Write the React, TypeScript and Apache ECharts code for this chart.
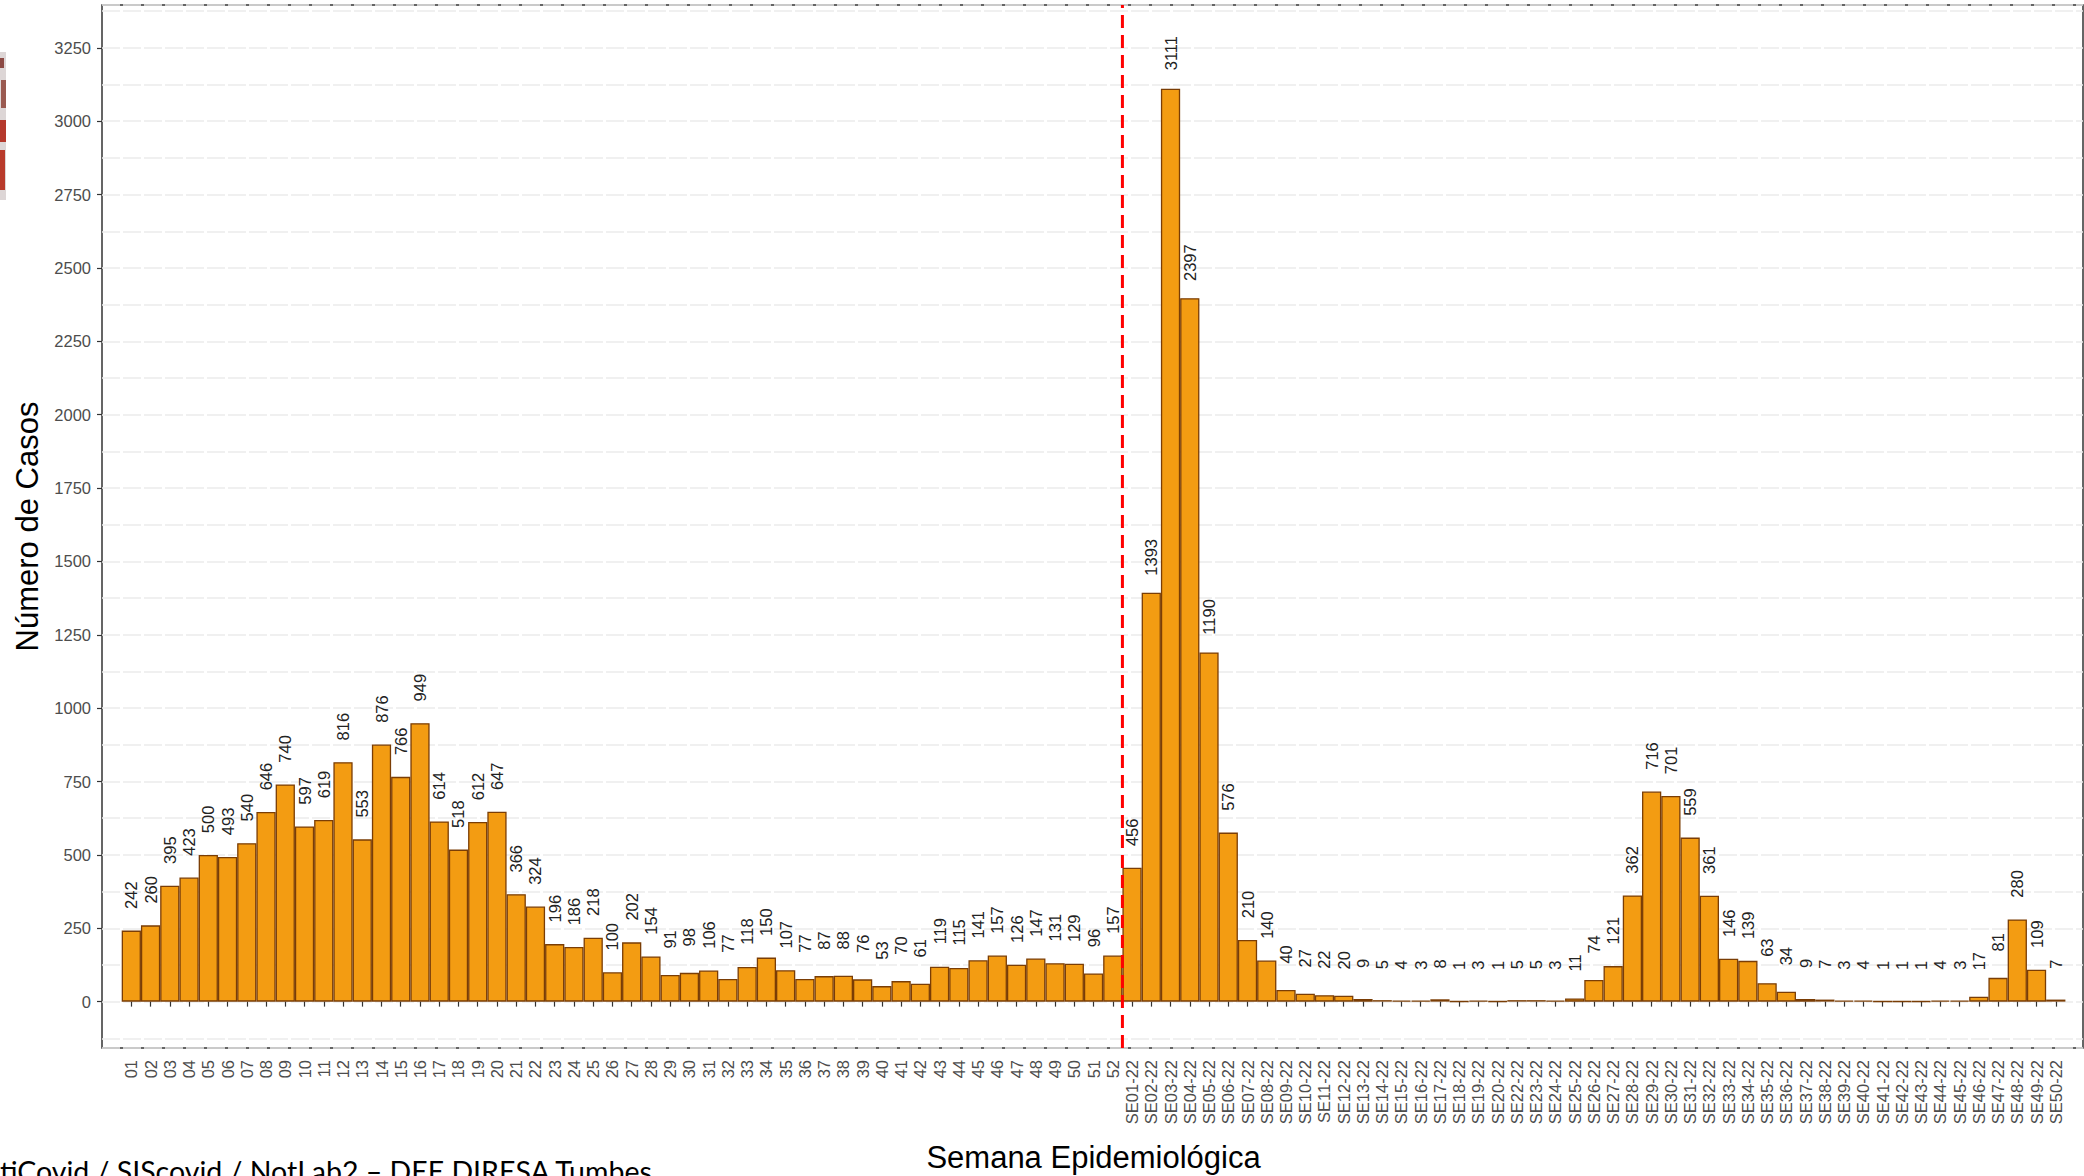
import React, { useEffect, useRef } from "react";
import * as echarts from "echarts";

const cats2021 = [
  "01","02","03","04","05","06","07","08","09","10",
  "11","12","13","14","15","16","17","18","19","20",
  "21","22","23","24","25","26","27","28","29","30",
  "31","32","33","34","35","36","37","38","39","40",
  "41","42","43","44","45","46","47","48","49","50",
  "51","52",
];
const values2021 = [
  242, 260, 395, 423, 500, 493, 540, 646, 740, 597,
  619, 816, 553, 876, 766, 949, 614, 518, 612, 647,
  366, 324, 196, 186, 218, 100, 202, 154, 91, 98,
  106, 77, 118, 150, 107, 77, 87, 88, 76, 53,
  70, 61, 119, 115, 141, 157, 126, 147, 131, 129,
  96, 157,
];
const cats2022 = [
  "SE01-22","SE02-22","SE03-22","SE04-22","SE05-22","SE06-22","SE07-22","SE08-22","SE09-22","SE10-22",
  "SE11-22","SE12-22","SE13-22","SE14-22","SE15-22","SE16-22","SE17-22","SE18-22","SE19-22","SE20-22",
  "SE22-22","SE23-22","SE24-22","SE25-22","SE26-22","SE27-22","SE28-22","SE29-22","SE30-22",
  "SE31-22","SE32-22","SE33-22","SE34-22","SE35-22","SE36-22","SE37-22","SE38-22","SE39-22","SE40-22",
  "SE41-22","SE42-22","SE43-22","SE44-22","SE45-22","SE46-22","SE47-22","SE48-22","SE49-22","SE50-22",
];
const values2022 = [
  456, 1393, 3111, 2397, 1190, 576, 210, 140, 40, 27,
  22, 20, 9, 5, 4, 3, 8, 1, 3, 1,
  5, 5, 3, 11, 74, 121, 362, 716, 701,
  559, 361, 146, 139, 63, 34, 9, 7, 3, 4,
  1, 1, 1, 4, 3, 17, 81, 280, 109, 7,
];
const yTickValues = [0, 250, 500, 750, 1000, 1250, 1500, 1750, 2000, 2250, 2500, 2750, 3000, 3250];

const Y_MIN = -158;
const Y_MAX = 3396;
const FONT = "'Liberation Sans', Arial, Helvetica, sans-serif";

export default function App() {
  const ref = useRef<HTMLDivElement>(null);

  useEffect(() => {
    if (!ref.current) return;
    const chart = echarts.init(ref.current, null, { renderer: "svg" });
    const categories = [...cats2021, ...cats2022];
    const values = [...values2021, ...values2022];
    const splitX = cats2021.length - 0.5;

    const option: any = {
      animation: false,
      backgroundColor: "#ffffff",
      grid: [
        { left: 121.7, right: 18.6, top: 5, bottom: 128, show: false, outerBoundsMode: "none", containLabel: false },
        {
          left: 102, right: 1, top: 5, bottom: 128, show: true,
          borderColor: "#333333", borderWidth: 1.5, backgroundColor: "transparent",
          outerBoundsMode: "none", containLabel: false,
        },
      ],
      xAxis: [
        {
          type: "category",
          gridIndex: 0,
          position: "bottom",
          data: categories,
          boundaryGap: true,
          axisLine: { show: false },
          axisTick: { show: true, alignWithLabel: true, length: 5, lineStyle: { color: "#333333", width: 1.2 } },
          axisLabel: {
            interval: 0, rotate: 90, margin: 12, color: "#4d4d4d",
            fontSize: 16.5, fontFamily: FONT,
          },
          splitLine: { show: false },
          name: "Semana Epidemiológica",
          nameLocation: "middle",
          nameGap: 94,
          nameTextStyle: { fontSize: 31, color: "#000000", fontFamily: FONT },
        },
        { type: "value", gridIndex: 0, position: "top", min: -0.5, max: categories.length - 0.5, show: false },
        { type: "value", gridIndex: 1, position: "bottom", min: 0, max: 1, show: false },
      ],
      yAxis: [
        { type: "value", gridIndex: 0, position: "left", min: Y_MIN, max: Y_MAX, show: false },
        {
          type: "value", gridIndex: 1, position: "left", min: Y_MIN, max: Y_MAX,
          minInterval: 125, maxInterval: 125,
          axisLine: { show: false }, axisTick: { show: false }, axisLabel: { show: false },
          splitLine: { show: true, lineStyle: { color: "#ebebeb", width: 1.5, type: [18, 3] } },
        },
        {
          type: "value", gridIndex: 1, position: "left", offset: 0, min: Y_MIN, max: Y_MAX,
          minInterval: 250, maxInterval: 250,
          axisLine: { show: false },
          axisTick: { show: true, length: 5, customValues: yTickValues, lineStyle: { color: "#333333", width: 1.2 } },
          axisLabel: {
            show: true, customValues: yTickValues, showMinLabel: true, showMaxLabel: true,
            formatter: (v: number) => String(v),
            margin: 11, color: "#4d4d4d", fontSize: 16.5, fontFamily: FONT,
          },
          splitLine: { show: false },
          name: "Número de Casos",
          nameLocation: "middle",
          nameGap: 57,
          nameTextStyle: { fontSize: 31, color: "#000000", fontFamily: FONT },
        },
      ],
      series: [
        {
          type: "bar",
          xAxisIndex: 0,
          yAxisIndex: 0,
          data: values,
          barCategoryGap: "0%",
          itemStyle: { color: "#F39C12", borderColor: "#7a3d05", borderWidth: 1.3 },
          label: {
            show: true,
            position: "top",
            distance: 35.5,
            rotate: 90,
            align: "center",
            verticalAlign: "middle",
            fontSize: 16.5,
            fontFamily: FONT,
            color: "#222222",
          },
          z: 3,
        },
        {
          type: "line",
          xAxisIndex: 1,
          yAxisIndex: 0,
          data: [[splitX, Y_MIN], [splitX, Y_MAX]],
          symbol: "none",
          lineStyle: { color: "#ff0000", width: 3, type: [13, 7] },
          silent: true,
          z: 5,
        },
      ],
      graphic: [
        { type: "rect", shape: { x: 0, y: 52, width: 6, height: 148 }, style: { fill: "#ddd6d6" } },
        { type: "rect", shape: { x: 0, y: 58, width: 4, height: 10 }, style: { fill: "#8c4a44" } },
        { type: "rect", shape: { x: 1, y: 80, width: 5, height: 28 }, style: { fill: "#9a5a50" } },
        { type: "rect", shape: { x: 0, y: 120, width: 6, height: 22 }, style: { fill: "#b5392c" } },
        { type: "rect", shape: { x: 0, y: 150, width: 5, height: 40 }, style: { fill: "#b83a2a" } },
        {
          type: "text",
          left: 0,
          top: 1156,
          style: {
            text: "tiCovid / SIScovid / NotLab2 – DEE DIRESA Tumbes",
            fontSize: 28.5,
            fontFamily: "Lato, 'Open Sans', sans-serif",
            fill: "#000000",
          },
        },
      ],
    };

    chart.setOption(option);
    return () => chart.dispose();
  }, []);

  return (
    <div
      ref={ref}
      style={{ position: "absolute", left: 0, top: 0, width: 2084, height: 1176 }}
    />
  );
}
